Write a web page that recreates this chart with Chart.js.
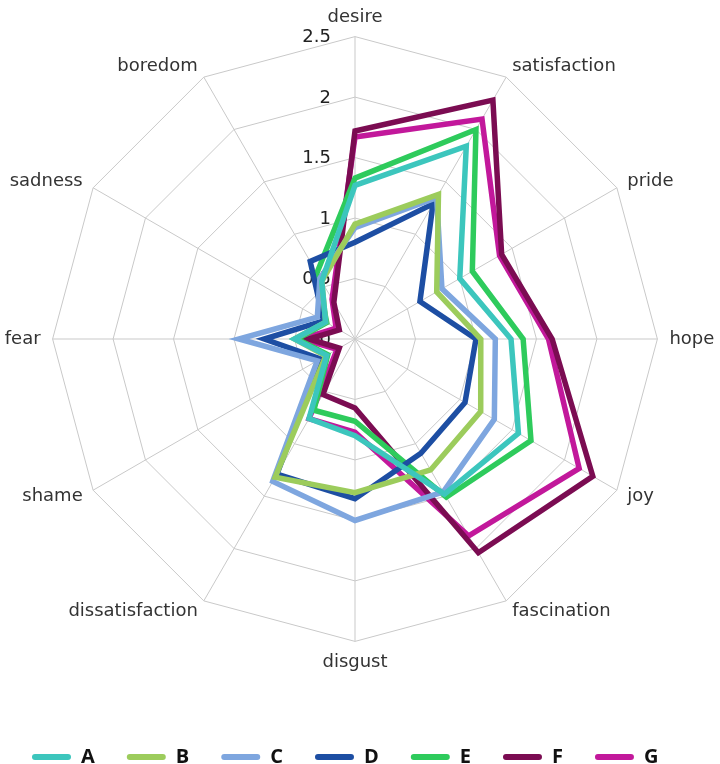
<!DOCTYPE html>
<html>
<head>
<meta charset="utf-8">
<script src="https://cdn.jsdelivr.net/npm/chart.js@4/dist/chart.umd.min.js"></script>
<style>
  html, body { margin: 0; padding: 0; background: #ffffff; }
  #wrap { position: relative; width: 720px; height: 764px; }
</style>
</head>
<body>
<div id="wrap"><canvas id="c"></canvas></div>
<script>
const categories = ['desire', 'satisfaction', 'pride', 'hope', 'joy', 'fascination',
  'disgust', 'dissatisfaction', 'shame', 'fear', 'sadness', 'boredom'];
const tickValues = [0, 0.5, 1, 1.5, 2, 2.5];
const tickLabels = ['0', '0.5', '1', '1.5', '2', '2.5'];

const seriesNames = ['A', 'B', 'C', 'D', 'E', 'F', 'G'];
const seriesA = [1.27, 1.84, 1.00, 1.29, 1.56, 1.48, 0.80, 0.76, 0.27, 0.50, 0.28, 0.55];
const seriesB = [0.95, 1.38, 0.78, 1.04, 1.20, 1.25, 1.27, 1.32, 0.28, 0.50, 0.28, 0.55];
const seriesC = [0.92, 1.35, 0.83, 1.16, 1.33, 1.46, 1.50, 1.36, 0.36, 0.96, 0.36, 0.58];
const seriesD = [0.80, 1.29, 0.62, 1.00, 1.05, 1.09, 1.32, 1.29, 0.33, 0.75, 0.30, 0.74];
const seriesE = [1.33, 2.00, 1.12, 1.39, 1.68, 1.51, 0.68, 0.68, 0.26, 0.48, 0.27, 0.63];
const seriesF = [1.72, 2.28, 1.40, 1.63, 2.27, 2.04, 0.57, 0.53, 0.15, 0.38, 0.15, 0.35];
const seriesG = [1.67, 2.10, 1.38, 1.60, 2.14, 1.88, 0.77, 0.76, 0.17, 0.44, 0.18, 0.38];
const seriesColors = ['#3cc6bd', '#9ccc5c', '#7ea6df', '#1d4ea3', '#2ecb5c', '#7b0c52', '#c2189b'];

const allSeries = [seriesA, seriesB, seriesC, seriesD, seriesE, seriesF, seriesG];

const datasets = allSeries.map((vals, i) => ({
  label: seriesNames[i],
  data: vals,
  borderColor: seriesColors[i],
  backgroundColor: seriesColors[i],
  borderWidth: 5.5,
  pointRadius: 0,
  pointHoverRadius: 0,
  fill: false,
  tension: 0,
  borderJoinStyle: 'miter'
}));

const labelFont = '18px "DejaVu Sans", sans-serif';

const tickPlugin = {
  id: 'leftTicksAndLabels',
  beforeDatasetsDraw(chart) {
    const s = chart.scales.r;
    const ctx = chart.ctx;
    ctx.save();
    ctx.font = '18px "DejaVu Sans", sans-serif';
    ctx.fillStyle = '#222';
    ctx.textAlign = 'right';
    ctx.textBaseline = 'middle';
    tickValues.forEach((v, i) => {
      const d = s.getDistanceFromCenterForValue(v);
      ctx.fillText(tickLabels[i], s.xCenter - 24, s.yCenter - d + 1);
    });
    // category labels, vertically centred on the spoke tips
    ctx.font = labelFont;
    ctx.fillStyle = '#333333';
    const n = categories.length;
    categories.forEach((lab, i) => {
      const p = s.getPointPosition(i, s.drawingArea + 12);
      if (i === 0) { ctx.textAlign = 'center'; ctx.textBaseline = 'bottom'; }
      else if (i === n / 2) { ctx.textAlign = 'center'; ctx.textBaseline = 'top'; }
      else if (i < n / 2) { ctx.textAlign = 'left'; ctx.textBaseline = 'middle'; }
      else { ctx.textAlign = 'right'; ctx.textBaseline = 'middle'; }
      ctx.fillText(lab, p.x, p.y + (i === 0 ? 2 : 0));
    });
    ctx.restore();
  }
};

new Chart(document.getElementById('c'), {
  type: 'radar',
  data: { labels: categories, datasets: datasets },
  options: {
    responsive: true,
    maintainAspectRatio: false,
    animation: false,
    layout: { padding: { top: 4, left: 0, right: 0, bottom: -13 } },
    elements: { line: { borderCapStyle: 'butt' } },
    scales: {
      r: {
        min: 0,
        max: 2.5,
        ticks: { stepSize: 0.5, display: false },
        grid: { color: '#c9c9c9', lineWidth: 1 },
        angleLines: { color: '#c9c9c9', lineWidth: 1 },
        pointLabels: {
          font: { family: '"DejaVu Sans", sans-serif', size: 18 },
          color: 'rgba(0,0,0,0)',
          padding: 12
        }
      }
    },
    plugins: {
      tooltip: { enabled: false },
      legend: {
        position: 'bottom',
        align: 'start',
        title: { display: true, text: ' ', padding: { top: 27, bottom: 0 }, font: { size: 10 } },
        labels: {
          boxWidth: 39,
          boxHeight: 6,
          useBorderRadius: true,
          borderRadius: 3,
          padding: 32,
          color: '#111',
          font: { family: '"Open Sans", sans-serif', size: 20, weight: 'bold' },
          generateLabels(chart) {
            return chart.data.datasets.map((ds, i) => ({
              text: ds.label,
              fillStyle: ds.borderColor,
              strokeStyle: ds.borderColor,
              lineWidth: 0,
              hidden: false,
              datasetIndex: i,
              borderRadius: 3,
              fontColor: '#111'
            }));
          }
        }
      }
    }
  },
  plugins: [tickPlugin]
});
</script>
</body>
</html>
